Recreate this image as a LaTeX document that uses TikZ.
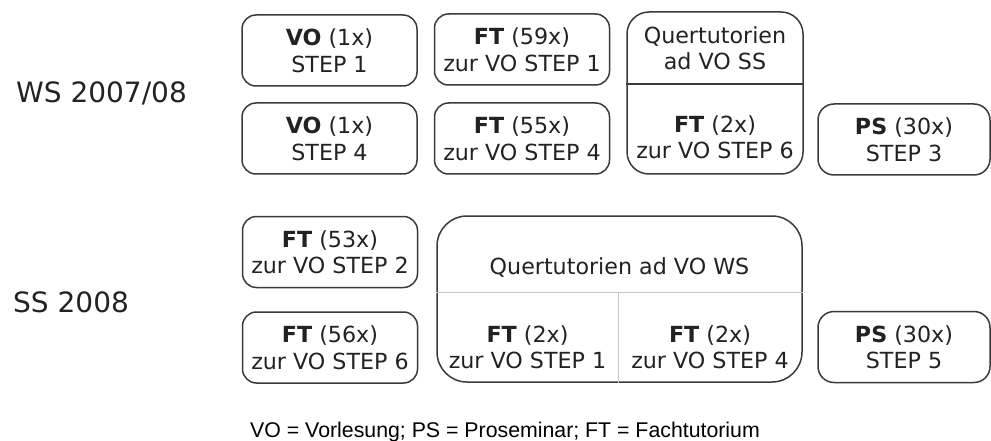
\documentclass[tikz,border=0pt]{standalone}
\usepackage{fontspec}
\setmainfont{DejaVu Sans}
\newfontfamily\legendfont{Liberation Sans}
\definecolor{rand}{HTML}{3A3A3A}
\definecolor{schrift}{HTML}{222222}
\definecolor{teiler}{HTML}{C8C8C8}

\begin{document}
\begin{tikzpicture}[x=1pt,y=-1pt,
  kurs/.style={draw=rand,line width=1.5pt,rounded corners=14pt,minimum width=175pt,minimum height=71pt,inner sep=0pt,align=center,text=schrift,font=\fontsize{22.2}{26.5}\selectfont},
  txt/.style={align=center,text=schrift,inner sep=0pt,font=\fontsize{22.2}{26}\selectfont},
  sem/.style={text=schrift,inner sep=0pt,font=\fontsize{28}{30}\selectfont}]
\useasboundingbox (0,0) rectangle (991,441);
% WS 2007/08
\node[sem,anchor=base west] (ws) at (16,103) {WS 2007/08};
\node[kurs] (vo1) at (329.5,50.5) {\textbf{VO} (1x)\\STEP 1};
\node[kurs] (ft1) at (522,49.5) {\textbf{FT} (59x)\\zur VO STEP 1};
\node[kurs] (vo4) at (329.5,138.5) {\textbf{VO} (1x)\\STEP 4};
\node[kurs] (ft4) at (522,138.5) {\textbf{FT} (55x)\\zur VO STEP 4};
\node[kurs,minimum width=176pt,minimum height=162pt,rounded corners=22pt] (qws) at (715,93) {};
\draw[rand,line width=1.5pt] (qws.west |- 0,84) -- (qws.east |- 0,84);
\node[txt] (qwst) at (715,48.5) {Quertutorien\\ad VO SS};
\node[txt] (ft6) at (715,137.5) {\textbf{FT} (2x)\\zur VO STEP 6};
\node[kurs,minimum width=172pt,rounded corners=16pt] (ps3) at (904,139.5) {\textbf{PS} (30x)\\STEP 3};
% SS 2008
\node[sem,anchor=base west] (ss) at (13,312) {SS 2008};
\node[kurs] (ft2) at (330,252) {\textbf{FT} (53x)\\zur VO STEP 2};
\node[kurs] (ft6b) at (330,347.5) {\textbf{FT} (56x)\\zur VO STEP 6};
\node[kurs,minimum width=365pt,minimum height=166pt,rounded corners=30pt] (qss) at (619.5,299) {};
\draw[teiler,line width=1pt] (qss.west |- 0,292) -- (qss.east |- 0,292);
\coordinate (mitte) at (618,292);
\draw[teiler,line width=1pt] (mitte) -- (mitte |- qss.south);
\node[txt,anchor=base] (qsst) at (619.5,274) {Quertutorien ad VO WS};
\node[txt] (ss1) at (527.5,347) {\textbf{FT} (2x)\\zur VO STEP 1};
\node[txt] (ss4) at (710,347) {\textbf{FT} (2x)\\zur VO STEP 4};
\node[kurs,minimum width=172pt,rounded corners=16pt] (ps5) at (904,347) {\textbf{PS} (30x)\\STEP 5};
% Legende
\node[anchor=base,inner sep=0pt,font=\legendfont\fontsize{21.3}{24}\selectfont] (legende) at (505,437) {VO = Vorlesung; PS = Proseminar; FT = Fachtutorium};
\end{tikzpicture}
\end{document}
